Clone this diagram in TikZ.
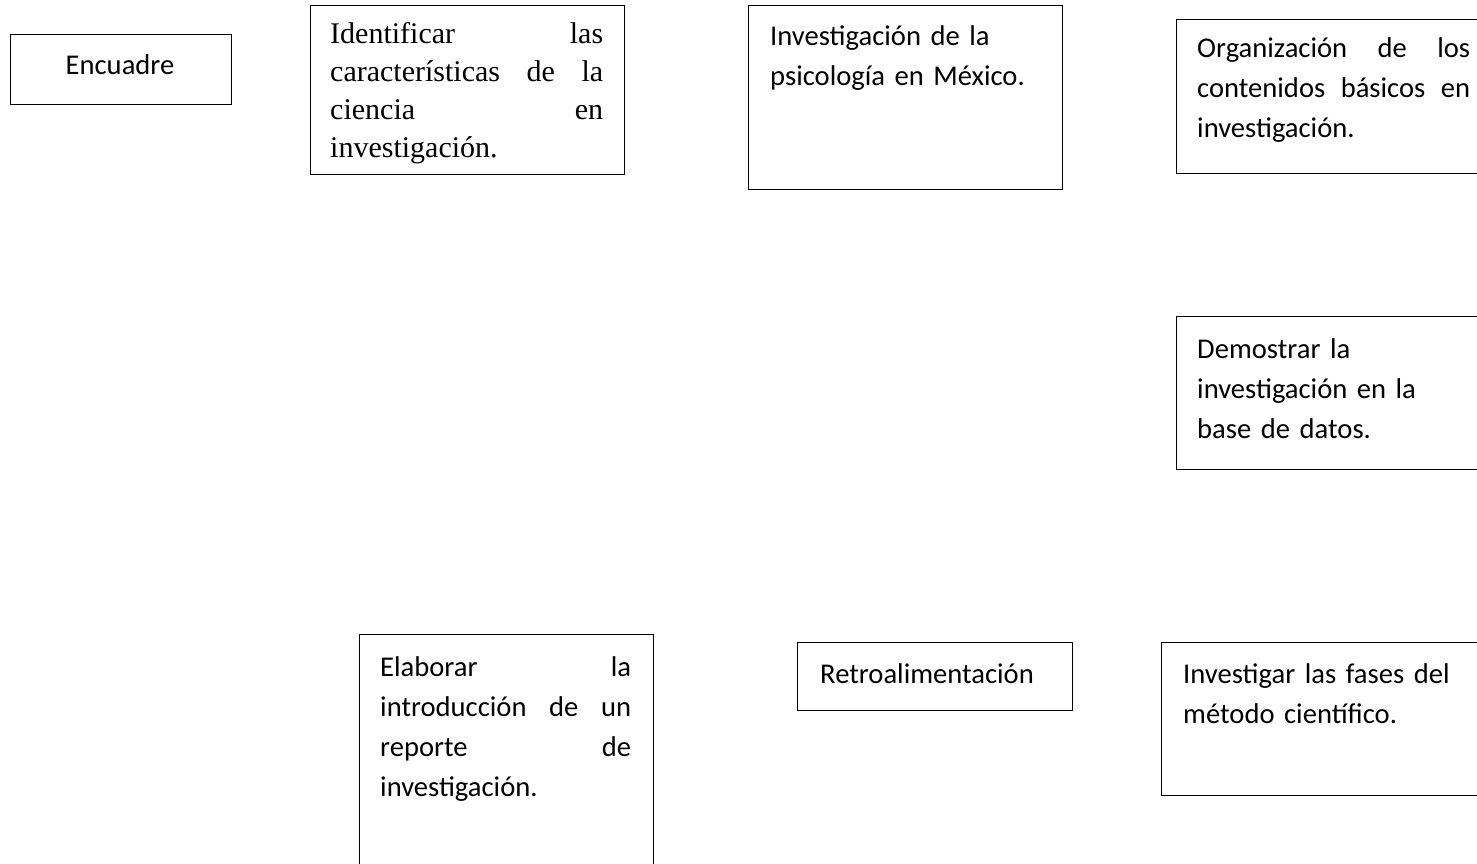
\documentclass[tikz,border=0pt]{standalone}
\usepackage{fontspec}
\setmainfont{Carlito}
\newfontfamily\timesfont{Liberation Serif}
\newcommand\jl[2]{\leavevmode\hbox to #1{#2}}
\begin{document}
\begin{tikzpicture}[x=1pt,y=-1pt,
  box/.style={draw=black, line width=1.3pt, anchor=north west, inner sep=0pt},
  txt/.style={inner sep=0pt, anchor=base west, align=left, font=\fontsize{28.6}{40}\selectfont},
  serif/.style={inner sep=0pt, anchor=base west, align=left, font=\timesfont\fontsize{30}{38}\selectfont}]
\useasboundingbox (0,0) rectangle (1477,864);
\clip (0,0) rectangle (1477,864);
% boxes
\node[box, minimum width=221pt, minimum height=70pt] (b1) at (10,34) {};
\node[box, minimum width=314pt, minimum height=169pt] (b2) at (310,5) {};
\node[box, minimum width=314pt, minimum height=184pt] (b3) at (748,5) {};
\node[box, minimum width=340pt, minimum height=154pt] (b4) at (1176,19) {};
\node[box, minimum width=340pt, minimum height=153pt] (b5) at (1176,316) {};
\node[box, minimum width=294pt, minimum height=260pt] (b6) at (359,634) {};
\node[box, minimum width=275pt, minimum height=68pt] (b7) at (797,642) {};
\node[box, minimum width=340pt, minimum height=153pt] (b8) at (1161,642) {};
% texts
\node[inner sep=0pt, anchor=base, font=\fontsize{28.6}{40}\selectfont] (t1) at (120,75) {Encuadre};
\begin{scope}
\clip (310,5) rectangle (624,165);
\node[serif, text width=273pt] (t2) at (330,44) {\jl{273pt}{Identificar\hfill las}\\\jl{273pt}{características\hfill de\hfill la}\\\jl{273pt}{ciencia\hfill en}\\investigación.};
\end{scope}
\node[txt, text width=280pt] (t3) at (770,45.5) {Investigación de la\\psicología en México.};
\node[txt, text width=273pt] (t4) at (1197,58) {\jl{273pt}{Organización\hfill de\hfill los}\\\jl{273pt}{contenidos\hfill básicos\hfill en}\\investigación.};
\node[txt, text width=270pt] (t5) at (1197,358) {Demostrar la\\investigación en la\\base de datos.};
\node[txt, text width=251pt] (t6) at (380,676) {\jl{251pt}{Elaborar\hfill la}\\\jl{251pt}{introducción\hfill de\hfill un}\\\jl{251pt}{reporte\hfill de}\\investigación.};
\node[txt] (t7) at (820,683) {Retroalimentación};
\node[txt, text width=290pt] (t8) at (1183,683) {Investigar las fases del\\método científico.};
\end{tikzpicture}
\end{document}
